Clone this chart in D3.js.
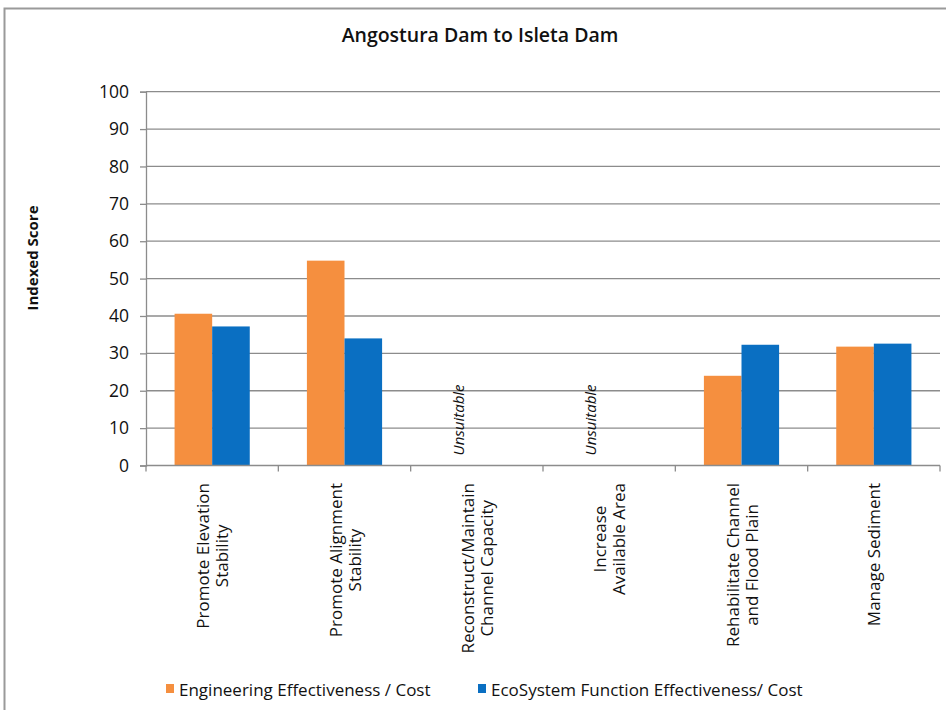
<!DOCTYPE html>
<html><head><meta charset="utf-8">
<script src="https://cdn.jsdelivr.net/npm/d3@7/dist/d3.min.js"></script>
<style>
html,body{margin:0;padding:0;background:#fff;}
text{font-family:"Open Sans",sans-serif;fill:#111;}
</style></head>
<body>
<svg id="chart" width="946" height="710"></svg>
<script>
const categories = [
  ["Promote Elevation","Stability"],
  ["Promote Alignment","Stability"],
  ["Reconstruct/Maintain","Channel Capacity"],
  ["Increase","Available Area"],
  ["Rehabilitate Channel","and Flood Plain"],
  ["Manage Sediment"]
];
const seriesNames = ["Engineering Effectiveness / Cost","EcoSystem Function Effectiveness/ Cost"];
const engineering = [40.6, 54.8, 0, 0, 24.0, 31.8];
const ecosystem   = [37.2, 34.0, 0, 0, 32.3, 32.6];
const unsuitable  = [false, false, true, true, false, false];
const yTicks = [0,10,20,30,40,50,60,70,80,90,100];
const title = "Angostura Dam to Isleta Dam";
const yTitle = "Indexed Score";
const colors = ["#F58F3F","#0A6FC2"];

const svg = d3.select("#chart");
const L = 146, R = 940, T = 91.7, B = 465.5;

// outer frame
svg.append("rect").attr("x",4.5).attr("y",8.5).attr("width",1000).attr("height",1000)
  .attr("fill","none").attr("stroke","#9a9a9a").attr("stroke-width",2);

const idx = categories.map((d,i)=>i);
const x0 = d3.scaleBand().domain(idx).range([L,R]).padding(0);
const x1 = d3.scaleBand().domain([0,1]).range([0,x0.bandwidth()]).paddingInner(0).paddingOuter(0.76);
const y = d3.scaleLinear().domain([0,100]).range([B,T]);

// gridlines
svg.append("g").selectAll("line").data(yTicks.filter(t=>t>0)).join("line")
  .attr("x1",L).attr("x2",R).attr("y1",d=>y(d)).attr("y2",d=>y(d))
  .attr("stroke","#8c8c8c").attr("stroke-width",1.3);

// y axis
const yAxis = svg.append("g").attr("transform",`translate(${L},0)`)
  .call(d3.axisLeft(y).tickValues(yTicks).tickSize(6).tickPadding(11));
yAxis.select(".domain").attr("stroke","#8c8c8c").attr("stroke-width",1.3);
yAxis.selectAll(".tick line").attr("stroke","#8c8c8c").attr("stroke-width",1.3);
yAxis.selectAll(".tick text").style("font-family","'Open Sans',sans-serif").style("font-size","17.5px").attr("fill","#222");

// bars
const data = idx.map(i=>[engineering[i], ecosystem[i]]);
const groups = svg.append("g").selectAll("g").data(data).join("g")
  .attr("transform",(d,i)=>`translate(${x0(i)},0)`);
groups.selectAll("rect").data(d=>d.map((v,s)=>({v,s}))).join("rect")
  .attr("x",d=>x1(d.s)).attr("width",x1.bandwidth())
  .attr("y",d=>y(d.v)).attr("height",d=>y(0)-y(d.v))
  .attr("fill",d=>colors[d.s]);

// x axis
const xAxisG = svg.append("g").attr("transform",`translate(0,${B})`);
xAxisG.append("line").attr("x1",L).attr("x2",R).attr("y1",0).attr("y2",0)
  .attr("stroke","#8c8c8c").attr("stroke-width",1.3);
const bounds = idx.map(i=>x0(i)).concat([R]);
xAxisG.selectAll(".tk").data(bounds).join("line").attr("class","tk")
  .attr("x1",d=>d).attr("x2",d=>d).attr("y1",0).attr("y2",6)
  .attr("stroke","#8c8c8c").attr("stroke-width",1.3);

// unsuitable labels
idx.filter(i=>unsuitable[i]).forEach(i=>{
  const cx = x0(i) + x1(0) + x1.bandwidth()/2;
  svg.append("text").attr("transform",`translate(${cx},${B-10}) rotate(-90)`)
    .attr("text-anchor","start").attr("dominant-baseline","central")
    .style("font-size","15px").style("font-style","italic").text("Unsuitable");
});

// category labels
const labelTop = 483, lineGap = 19;
categories.forEach((lines,i)=>{
  const cx = x0(i) + x0.bandwidth()/2;
  const g = svg.append("g");
  const n = lines.length;
  const texts = lines.map((t,k)=>{
    const lx = cx + (k - (n-1)/2)*lineGap;
    return g.append("text").attr("x",0).attr("y",0)
      .attr("text-anchor","middle").attr("dominant-baseline","central")
      .style("font-size","17px").attr("fill","#222").text(t).datum(lx);
  });
  const maxLen = d3.max(texts, t=>t.node().getComputedTextLength());
  texts.forEach(t=>{
    const lx = t.datum();
    t.attr("transform",`translate(${lx},${labelTop + maxLen/2}) rotate(-90)`);
  });
});

// title
svg.append("text").attr("x",480).attr("y",42).attr("text-anchor","middle")
  .style("font-size","19.5px").style("font-weight","600").text(title);

// y title
svg.append("text").attr("transform",`translate(32,258) rotate(-90)`)
  .attr("text-anchor","middle").attr("dominant-baseline","central")
  .style("font-size","15px").style("font-weight","700").text(yTitle);

// legend
const legX = [166, 478];
seriesNames.forEach((n,s)=>{
  svg.append("rect").attr("x",legX[s]).attr("y",684).attr("width",8).attr("height",9).attr("fill",colors[s]);
  svg.append("text").attr("x",legX[s]+13).attr("y",689).attr("dominant-baseline","central")
    .style("font-size","17px").attr("fill","#222").text(n);
});
</script>
</body></html>
